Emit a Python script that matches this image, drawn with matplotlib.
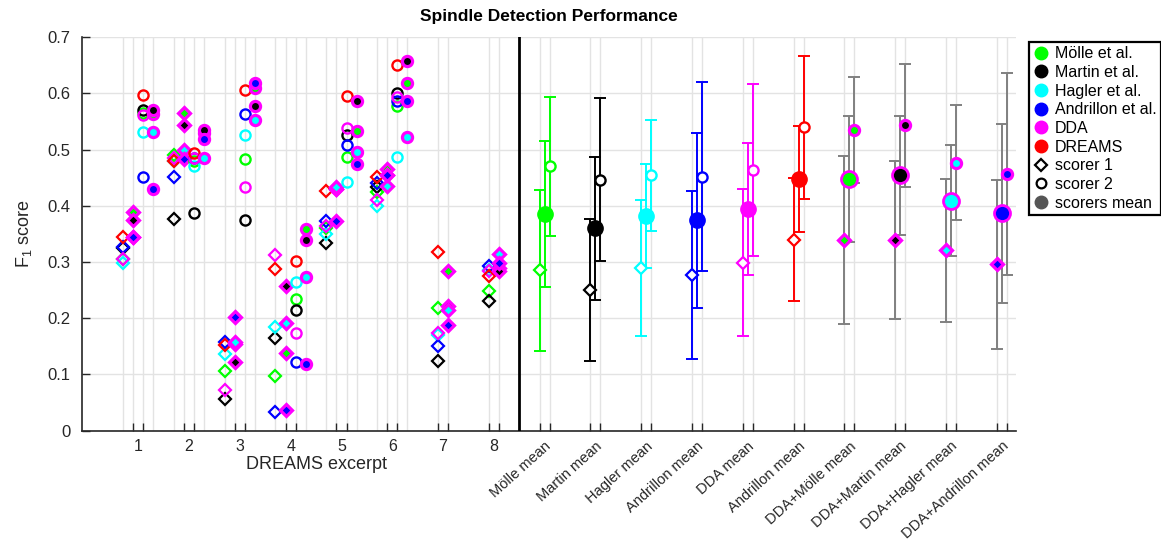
import matplotlib.pyplot as plt
import numpy as np
from matplotlib.lines import Line2D
from matplotlib.transforms import blended_transform_factory

plt.rcParams['font.family'] = ['Liberation Sans', 'DejaVu Sans']
plt.rcParams['mathtext.default'] = 'regular'

# detectors, in legend order
methods = ['Mölle et al.', 'Martin et al.', 'Hagler et al.', 'Andrillon et al.', 'DDA', 'DREAMS']
colors = ['#00ff00', '#000000', '#00ffff', '#0000ff', '#ff00ff', '#ff0000']
excerpts = [1, 2, 3, 4, 5, 6, 7, 8]

# scorer 1, single detectors (excerpts 1-8)
s1_molle = [0.305, 0.490, 0.106, 0.097, 0.360, 0.425, 0.219, 0.249]
s1_martin = [0.325, 0.377, 0.057, 0.165, 0.333, 0.434, 0.124, 0.231]
s1_hagler = [0.298, 0.480, 0.137, 0.185, 0.349, 0.400, 0.170, 0.285]
s1_andrillon = [0.326, 0.452, 0.158, 0.034, 0.373, 0.440, 0.150, 0.293]
s1_dda = [0.305, 0.485, 0.072, 0.312, 0.364, 0.410, 0.173, 0.284]
s1_dreams = [0.344, 0.479, 0.152, 0.287, 0.427, 0.452, 0.318, 0.275]

# scorer 1, DDA combined with each detector
s1_dda_molle = [0.389, 0.565, 0.155, 0.139, 0.430, 0.466, 0.284, 0.290]
s1_dda_martin = [0.375, 0.543, 0.122, 0.258, 0.430, 0.455, 0.222, 0.284]
s1_dda_hagler = [0.345, 0.500, 0.158, 0.191, 0.433, 0.435, 0.214, 0.314]
s1_dda_andrillon = [0.345, 0.483, 0.202, 0.036, 0.373, 0.454, 0.188, 0.298]

# scorer 2 only exists for excerpts 1-6
s2_molle = [0.565, 0.480, 0.483, 0.235, 0.487, 0.578]
s2_martin = [0.571, 0.388, 0.375, 0.215, 0.526, 0.600]
s2_hagler = [0.532, 0.471, 0.526, 0.264, 0.442, 0.487]
s2_andrillon = [0.451, 0.485, 0.563, 0.122, 0.508, 0.587]
s2_dda = [0.562, 0.485, 0.434, 0.173, 0.539, 0.593]
s2_dreams = [0.597, 0.494, 0.606, 0.302, 0.596, 0.650]

s2_dda_molle = [0.563, 0.530, 0.609, 0.358, 0.533, 0.618]
s2_dda_martin = [0.571, 0.535, 0.578, 0.339, 0.587, 0.657]
s2_dda_hagler = [0.532, 0.485, 0.553, 0.274, 0.496, 0.523]
s2_dda_andrillon = [0.430, 0.518, 0.619, 0.118, 0.475, 0.587]

# summary (mean +- sd)
summary_labels = ['Mölle mean', 'Martin mean', 'Hagler mean', 'Andrillon mean', 'DDA mean',
                  'Andrillon mean', 'DDA+Mölle mean', 'DDA+Martin mean', 'DDA+Hagler mean',
                  'DDA+Andrillon mean']
sum_s1 = [0.285, 0.250, 0.290, 0.277, 0.299, 0.340, 0.339, 0.339, 0.321, 0.296]
sum_s1_sd = [0.143, 0.126, 0.121, 0.150, 0.131, 0.109, 0.149, 0.140, 0.127, 0.150]
sum_s2 = [0.470, 0.446, 0.454, 0.452, 0.464, 0.540, 0.535, 0.543, 0.477, 0.457]
sum_s2_sd = [0.123, 0.145, 0.099, 0.168, 0.153, 0.127, 0.095, 0.109, 0.103, 0.180]
sum_avg = [0.385, 0.360, 0.382, 0.374, 0.394, 0.448, 0.447, 0.454, 0.409, 0.387]
sum_avg_sd = [0.130, 0.127, 0.092, 0.155, 0.117, 0.094, 0.112, 0.106, 0.099, 0.159]
sum_color = ['#00ff00', '#000000', '#00ffff', '#0000ff', '#ff00ff', '#ff0000',
             '#00ff00', '#000000', '#00ffff', '#0000ff']

s1_single = [s1_molle, s1_martin, s1_hagler, s1_andrillon, s1_dda, s1_dreams]
s1_combo = [s1_dda_molle, s1_dda_martin, s1_dda_hagler, s1_dda_andrillon]
s2_single = [s2_molle, s2_martin, s2_hagler, s2_andrillon, s2_dda, s2_dreams]
s2_combo = [s2_dda_molle, s2_dda_martin, s2_dda_hagler, s2_dda_andrillon]

mag = '#ff00ff'
ms_d, ms_o = 6.5, 7.3

fig = plt.figure(figsize=(11.61, 5.39), dpi=100)
ax = fig.add_axes([0.0706, 0.201, 0.8045, 0.730])

ex = np.array(excerpts, dtype=float)
# column positions within an excerpt: 1-6 have two scorers, 7-8 only one
off_s1 = np.where(ex <= 6, -0.3, -0.1)
off_s1c = np.where(ex <= 6, -0.1, 0.1)
x_s1 = ex + off_s1
x_s1c = ex + off_s1c
x_s2 = ex[:6] + 0.1
x_s2c = ex[:6] + 0.3

grid_x = np.concatenate([x_s1, x_s1c, x_s2, x_s2c])
sum_x = np.arange(9, 19)
grid_x = np.concatenate([grid_x, sum_x - 0.1, sum_x + 0.1])
for gx in grid_x:
    ax.axvline(gx, color='#e3e3e3', lw=1, zorder=0)
ax.yaxis.grid(True, color='#e3e3e3', lw=1, zorder=0)
ax.set_axisbelow(True)

for vals, c in zip(s1_single, colors):
    ax.plot(x_s1, vals, 'D', ms=6, mfc='none', mec=c, mew=1.6, ls='none', zorder=3)
for vals, c in zip(s1_combo, colors):
    ax.plot(x_s1c, vals, 'D', ms=ms_d, mfc=c, mec=mag, mew=2.3, ls='none', zorder=3)
for vals, c in zip(s2_single, colors):
    ax.plot(x_s2, vals, 'o', ms=ms_o, mfc='none', mec=c, mew=1.7, ls='none', zorder=3)
for vals, c in zip(s2_combo, colors):
    ax.plot(x_s2c, vals, 'o', ms=ms_o, mfc=c, mec=mag, mew=2.3, ls='none', zorder=3)

# summary part
for i, xc in enumerate(sum_x):
    c = sum_color[i]
    combo = i >= 6
    ec = '#808080' if combo else c
    ax.errorbar(xc - 0.1, sum_s1[i], yerr=sum_s1_sd[i], fmt='none', ecolor=ec,
                elinewidth=1.4, capsize=4.5, capthick=1.4, zorder=2)
    ax.errorbar(xc, sum_avg[i], yerr=sum_avg_sd[i], fmt='none', ecolor=ec,
                elinewidth=1.4, capsize=4.5, capthick=1.4, zorder=2)
    ax.errorbar(xc + 0.1, sum_s2[i], yerr=sum_s2_sd[i], fmt='none', ecolor=ec,
                elinewidth=1.4, capsize=4.5, capthick=1.4, zorder=2)
    if combo:
        ax.plot(xc - 0.1, sum_s1[i], 'D', ms=ms_d, mfc=c, mec=mag, mew=2.3, zorder=4)
        ax.plot(xc + 0.1, sum_s2[i], 'o', ms=ms_o, mfc=c, mec=mag, mew=2.3, zorder=4)
        ax.plot(xc, sum_avg[i], 'o', ms=11.5, mfc=c, mec=mag, mew=2.0, zorder=5)
    else:
        ax.plot(xc - 0.1, sum_s1[i], 'D', ms=6, mfc='white', mec=c, mew=1.6, zorder=4)
        ax.plot(xc + 0.1, sum_s2[i], 'o', ms=ms_o, mfc='white', mec=c, mew=1.7, zorder=4)
        ax.plot(xc, sum_avg[i], 'o', ms=11, mfc=c, mec=c, zorder=5)

ax.axvline(8.5, color='k', lw=2, zorder=6)

ax.set_xlim(-0.108, 18.28)
ax.set_ylim(0, 0.7)
ax.set_yticks(np.arange(0, 0.71, 0.1))
ax.set_yticklabels(['0', '0.1', '0.2', '0.3', '0.4', '0.5', '0.6', '0.7'])

tick_x = np.concatenate([ex[:6] - 0.1, ex[:6] + 0.1, ex[6:] - 0.1, ex[6:] + 0.1,
                         sum_x - 0.1, sum_x + 0.1])
ax.set_xticks(np.sort(tick_x))
ax.set_xticklabels([])
ax.set_xticks(np.concatenate([ex, sum_x]), minor=True)
ax.set_xticklabels([str(e) for e in excerpts] + summary_labels, minor=True)
ax.tick_params(axis='x', which='minor', length=0, pad=6, labelsize=11.5, labelcolor='#262626')
ax.tick_params(axis='x', which='major', direction='in', length=6, width=1, color='#262626')
ax.tick_params(axis='y', direction='in', length=6, width=1, color='#262626',
               labelsize=12, labelcolor='#262626', pad=8)
for lab in ax.get_xminorticklabels()[8:]:
    lab.set_rotation(42)
    lab.set_ha('right')
    lab.set_va('top')
    lab.set_rotation_mode('anchor')
    lab.set_fontsize(10.5)

for s in ['top', 'right']:
    ax.spines[s].set_visible(False)
for s in ['left', 'bottom']:
    ax.spines[s].set_color('#262626')
    ax.spines[s].set_linewidth(1.2)

ax.set_title('Spindle Detection Performance', fontsize=12.5, fontweight='bold', pad=12)
ax.set_ylabel('F$_1$ score', fontsize=13, color='#262626', labelpad=10)
trans = blended_transform_factory(ax.transData, ax.transAxes)
ax.text(4.5, -0.065, 'DREAMS excerpt', transform=trans, ha='center', va='top',
        fontsize=13, color='#262626')

handles = [Line2D([], [], ls='none', marker='o', ms=9, mfc=c, mec=c) for c in colors]
handles += [Line2D([], [], ls='none', marker='D', ms=6, mfc='none', mec='k', mew=1.6),
            Line2D([], [], ls='none', marker='o', ms=7, mfc='none', mec='k', mew=1.6),
            Line2D([], [], ls='none', marker='o', ms=9, mfc='#555555', mec='#555555')]
labels = methods + ['scorer 1', 'scorer 2', 'scorers mean']
leg = fig.legend(handles, labels, loc='upper left', bbox_to_anchor=(0.8863, 0.923),
                 bbox_transform=fig.transFigure, fontsize=11.5, handlelength=0.9,
                 handletextpad=0.4, labelspacing=0.23, borderpad=0.3,
                 fancybox=False, framealpha=1, borderaxespad=0)
leg.get_frame().set_edgecolor('k')
leg.get_frame().set_linewidth(1.6)

fig.savefig('out.png', dpi=100)
